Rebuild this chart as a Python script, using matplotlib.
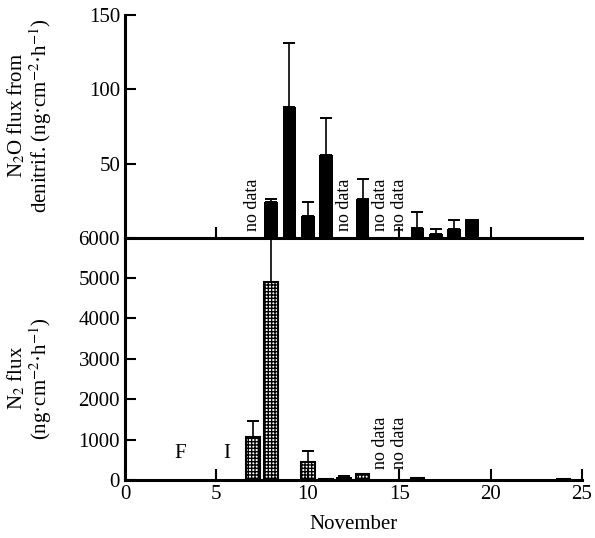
import numpy as np
import matplotlib
matplotlib.use('Agg')
import matplotlib.pyplot as plt

# N2O flux from denitrification (top panel)
n2o_days = np.array([8, 9, 10, 11, 13, 16, 17, 18, 19])
n2o_flux = np.array([24, 88, 15, 56, 26, 7, 3, 6, 13])
n2o_err = np.array([2, 43, 9, 25, 14, 10.5, 3, 6, 0])
n2o_nodata = [7, 12, 14, 15]

# N2 flux (bottom panel)
n2_days = np.array([7, 8, 10, 11, 12, 13, 16, 24])
n2_flux = np.array([1070, 4900, 440, 20, 40, 140, 40, 15])
n2_err = np.array([380, 1700, 270, 0, 60, 0, 0, 0])
n2_nodata = [14, 15]

xticks = [0, 5, 10, 15, 20, 25]

plt.rcParams['font.family'] = ['Liberation Serif', 'DejaVu Serif']
plt.rcParams['mathtext.fontset'] = 'stix'
plt.rcParams['hatch.linewidth'] = 1.0

fig = plt.figure(figsize=(5.95, 5.38), dpi=100)
ax_top = fig.add_axes([0.210, 0.5576, 0.768, 0.4145])
ax_bot = fig.add_axes([0.210, 0.108, 0.768, 0.4500])

W = 0.75
lw_sp = 2.2

# top panel
ax_top.bar(n2o_days, n2o_flux, width=W, color='black')
m = n2o_err > 0
ax_top.errorbar(n2o_days[m], n2o_flux[m], yerr=[np.zeros(m.sum()), n2o_err[m]],
                fmt='none', ecolor='black', elinewidth=1.2, capsize=4, capthick=1.4)
for d in n2o_nodata:
    ax_top.text(d, 5, 'no data', rotation=90, ha='center', va='bottom', fontsize=13)
ax_top.set_xlim(0, 25)
ax_top.set_ylim(0, 150)
ax_top.set_yticks([50, 100, 150])
ax_top.set_xticks([5, 10, 15, 20])
ax_top.tick_params(axis='x', labelbottom=False)
ax_top.set_ylabel('N$_2$O flux from\ndenitrif. (ng·cm$^{-2}$·h$^{-1}$)', fontsize=15, linespacing=1.0)
ax_top.yaxis.set_label_coords(-0.155, 0.55)

# bottom panel
ax_bot.bar(n2_days, n2_flux, width=W, facecolor='white', edgecolor='black',
           hatch='+++++', linewidth=1.5)
m = n2_err > 0
ax_bot.errorbar(n2_days[m], n2_flux[m], yerr=[np.zeros(m.sum()), n2_err[m]],
                fmt='none', ecolor='black', elinewidth=1.2, capsize=4, capthick=1.4)
for d in n2_nodata:
    ax_bot.text(d, 270, 'no data', rotation=90, ha='center', va='bottom', fontsize=13)
ax_bot.text(3.0, 650, 'F', ha='center', va='center', fontsize=15)
ax_bot.text(5.55, 650, 'I', ha='center', va='center', fontsize=15)
ax_bot.set_xlim(0, 25)
ax_bot.set_ylim(0, 6000)
ax_bot.set_yticks(np.arange(0, 6001, 1000))
ax_bot.set_xticks(xticks)
ax_bot.set_xlabel('November', fontsize=15, labelpad=8)
ax_bot.set_ylabel('N$_2$ flux\n(ng·cm$^{-2}$·h$^{-1}$)', fontsize=15, linespacing=1.0)
ax_bot.yaxis.set_label_coords(-0.155, 0.42)

for ax in (ax_top, ax_bot):
    ax.spines['top'].set_visible(False)
    ax.spines['right'].set_visible(False)
    ax.spines['left'].set_linewidth(lw_sp)
    ax.spines['bottom'].set_linewidth(lw_sp)
    ax.tick_params(direction='in', length=8, width=1.5, labelsize=15)
    ax.patch.set_alpha(0)

fig.savefig('out.png', dpi=100)
